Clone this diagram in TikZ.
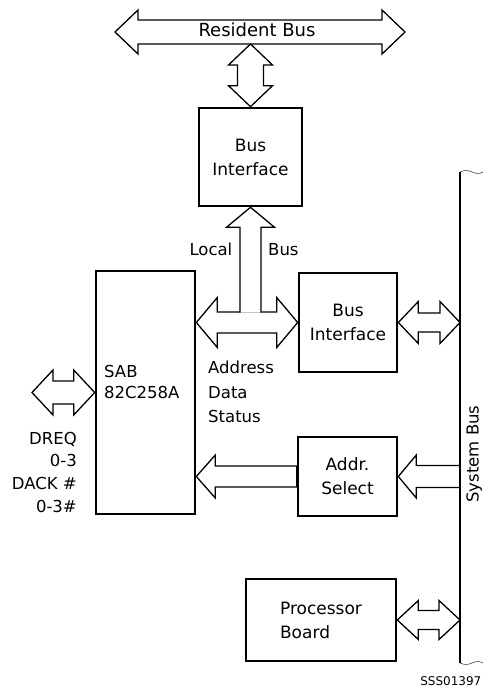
\documentclass[tikz,border=0pt]{standalone}
\usepackage{fontspec}
\setmainfont{DejaVu Sans}
\usetikzlibrary{calc}
\tikzstyle{unitbox} = [rectangle, draw=black, line width=2.6pt, inner sep=0pt, align=center, font=\fontsize{17}{24}\selectfont]
\tikzstyle{fat} = [line width=1.3pt, line join=miter]
\tikzstyle{busline} = [line width=1.4pt]
% fat arrows: {head length}{half shaft}{half head}
\tikzset{
  hdbl/.style n args={3}{to path={
    -- ($(\tikztostart)+(#1,-#3)$) -- ($(\tikztostart)+(#1,-#2)$)
    -- ($(\tikztotarget)+(-#1,-#2)$) -- ($(\tikztotarget)+(-#1,-#3)$)
    -- (\tikztotarget)
    -- ($(\tikztotarget)+(-#1,#3)$) -- ($(\tikztotarget)+(-#1,#2)$)
    -- ($(\tikztostart)+(#1,#2)$) -- ($(\tikztostart)+(#1,#3)$) -- cycle}},
  vdbl/.style n args={3}{to path={
    -- ($(\tikztostart)+(#3,#1)$) -- ($(\tikztostart)+(#2,#1)$)
    -- ($(\tikztotarget)+(#2,-#1)$) -- ($(\tikztotarget)+(#3,-#1)$)
    -- (\tikztotarget)
    -- ($(\tikztotarget)+(-#3,-#1)$) -- ($(\tikztotarget)+(-#2,-#1)$)
    -- ($(\tikztostart)+(-#2,#1)$) -- ($(\tikztostart)+(-#3,#1)$) -- cycle}},
  lsgl/.style n args={3}{to path={
    -- ($(\tikztostart)+(0,-#2)$) -- ($(\tikztotarget)+(#1,-#2)$)
    -- ($(\tikztotarget)+(#1,-#3)$) -- (\tikztotarget)
    -- ($(\tikztotarget)+(#1,#3)$) -- ($(\tikztotarget)+(#1,#2)$)
    -- ($(\tikztostart)+(0,#2)$) -- cycle}}
}

\begin{document}
\begin{tikzpicture}[x=1pt, y=-1pt, font=\fontsize{16.5}{24}\selectfont]
        \useasboundingbox (0,0) rectangle (483,692);
        % blocks
        \node (bi1) [unitbox, minimum width=103pt, minimum height=98pt] at (250.5,157) {Bus\\Interface};
        \node (bi2) [unitbox, minimum width=98pt, minimum height=99pt] at (348,322.5) {Bus\\Interface};
        \node (sab) [unitbox, minimum width=99pt, minimum height=243pt] at (145.5,392.5) {};
        \node (addr) [unitbox, minimum width=99pt, minimum height=79pt] at (347.5,476.5) {Addr.\\Select};
        \node (proc) [unitbox, minimum width=150pt, minimum height=82pt, align=left] at (321,620) {Processor\\Board};
        \node (sabtxt) [anchor=north west, inner sep=0pt, align=left, font=\fontsize{16.5}{21.3}\selectfont] at (104,365) {SAB\\82C258A};
        % system bus
        \coordinate (sbtop) at (460,172);
        \coordinate (sbbot) at (460,663);
        \draw [busline] (sbtop) -- (sbbot);
        \draw [thin] (sbtop) sin ++(6,-1.5) cos ++(6,1.5) sin ++(6,1.5) cos ++(5,-1.5);
        \draw [thin] (sbbot) sin ++(6,1.5) cos ++(6,-1.5) sin ++(6,-1.5) cos ++(5,1.5);
        \node (sbtxt) [rotate=90, anchor=base, inner sep=0pt] at (478.5,454) {System Bus};
        % resident bus
        \coordinate (rbl) at (115,32);
        \coordinate (rbr) at (405,32);
        \coordinate (rbs) at ($(bi1.north |- rbl)+(0,12)$);
        \draw [fat] (rbl) to[hdbl={23}{12}{22}] (rbr);
        \node (rbtxt) [anchor=base, inner sep=0pt, font=\fontsize{18}{20}\selectfont] at (257,37) {Resident Bus};
        \draw [fat] (rbs) to[vdbl={21}{13}{22}] (bi1.north);
        % local bus
        \coordinate (lbl) at (sab.east |- bi2.west);
        \coordinate (lbj) at (bi1.south |- bi2.west);
        \draw [fat] (lbl) to[hdbl={21}{10.5}{25}] (bi2.west);
        \draw [fat, fill=white] ($(lbj)+(-10.5,-9.8)$) -- ($(bi1.south)+(-10.5,20)$) -- ($(bi1.south)+(-24,20)$)
            -- (bi1.south) -- ($(bi1.south)+(24,20)$) -- ($(bi1.south)+(10.5,20)$) -- ($(lbj)+(10.5,-9.8)$);
        \node (local) [anchor=base east, inner sep=0pt] at (232.5,255) {Local};
        \node (lbus) [anchor=base west, inner sep=0pt] at (268,255) {Bus};
        \node (ads) [anchor=north west, inner sep=0pt, align=left, font=\fontsize{16.5}{24.5}\selectfont] at (208,361.2) {Address\\Data\\Status};
        % dma lines
        \coordinate (dreq) at (32,392.5);
        \draw [fat] (dreq) to[hdbl={21}{11.5}{22.5}] (sab.west);
        \node (dreqtxt) [anchor=north east, inner sep=0pt, align=right, font=\fontsize{16.5}{22.8}\selectfont] at (77,431.7) {DREQ\\0-3\\DACK \#\\0-3\#};
        % to the system bus
        \coordinate (sb1) at (bi2.east -| sbtop);
        \coordinate (sb2) at (addr.east -| sbtop);
        \coordinate (sb3) at (proc.east -| sbtop);
        \coordinate (sabin) at (sab.east |- addr.west);
        \draw [fat] (bi2.east) to[hdbl={20}{9.5}{21}] (sb1);
        \draw [fat] (sb2) to[lsgl={18}{11}{21.5}] (addr.east);
        \draw [fat] (addr.west) to[lsgl={19}{10.5}{21.5}] (sabin);
        \draw [fat] (proc.east) to[hdbl={21}{9.5}{19.5}] (sb3);
        \node (code) [anchor=base east, inner sep=0pt, font=\fontsize{12}{14}\selectfont] at (481.5,685) {SSS01397};
    \end{tikzpicture}
\end{document}
